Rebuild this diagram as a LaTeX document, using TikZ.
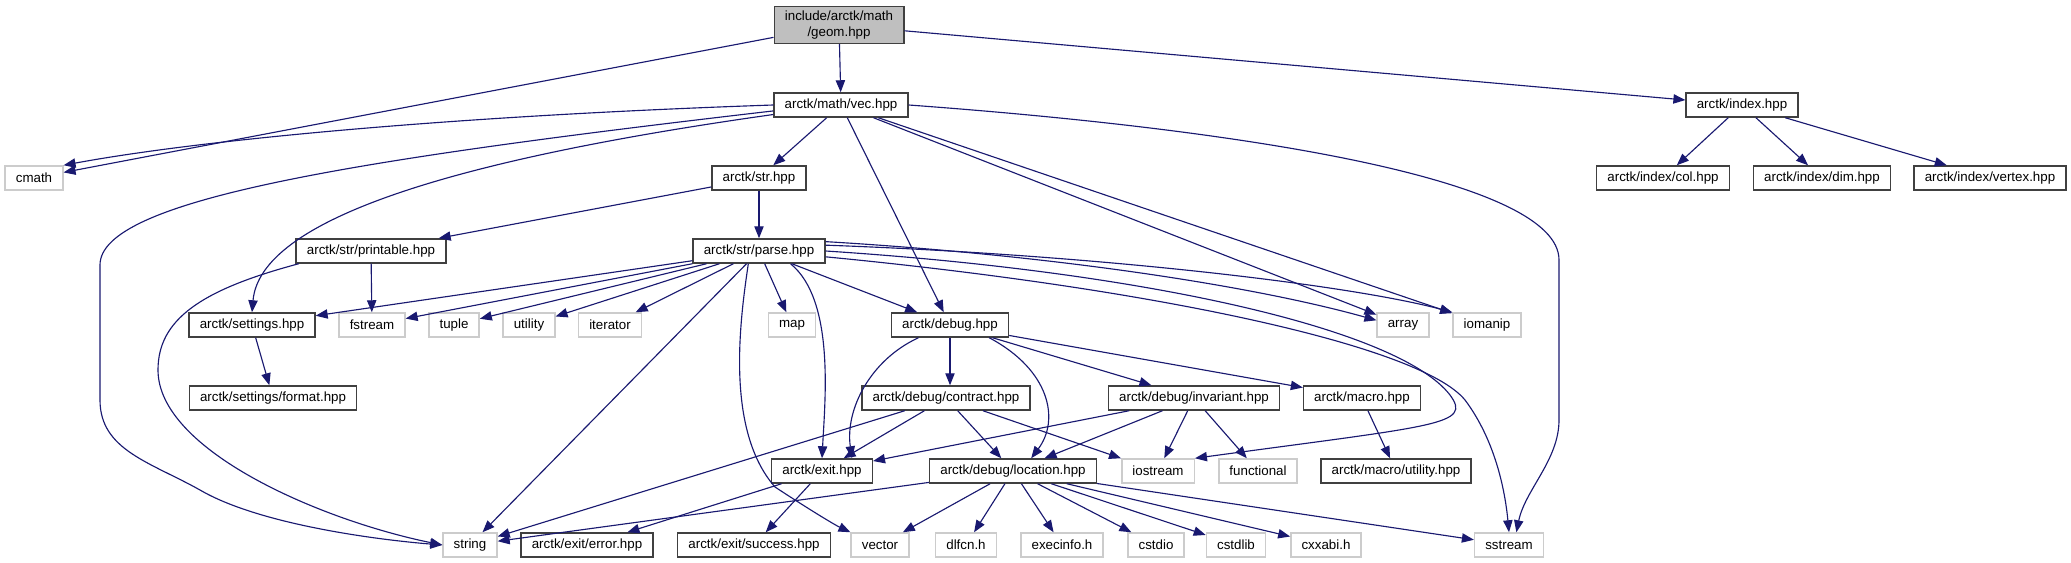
\documentclass[tikz,border=0pt]{standalone}
\usepackage{fontspec}
\setmainfont{Liberation Sans}
\definecolor{dxnavy}{HTML}{191970}
\definecolor{dxgrey}{HTML}{BFBFBF}
\definecolor{dxline}{HTML}{404040}
\usetikzlibrary{arrows.meta}

\begin{document}
\begin{tikzpicture}[x=0.75pt,y=-0.75pt,
  hdr/.style={draw=dxline,fill=white,line width=1.1pt,font=\fontsize{10}{12}\selectfont,inner xsep=8pt,inner ysep=0pt,minimum height=18pt},
  sys/.style={hdr,draw=black!20},
  dep/.style={-{Triangle[length=9pt,width=7pt]},dxnavy,line width=0.85pt}]
  \useasboundingbox (0,0) rectangle (2071,563);
  % Top file
  \node[hdr,fill=dxgrey,align=center,minimum height=27.5pt] (geom) at (839,25) {include/arctk/math\\/geom.hpp};
  \node[hdr] (vec) at (841,105) {arctk/math/vec.hpp};
  \node[hdr] (index) at (1742,105) {arctk/index.hpp};
  % Rank 2
  \node[sys] (cmath) at (34,178) {cmath};
  \node[hdr] (str) at (759,178) {arctk/str.hpp};
  \node[hdr] (icol) at (1663,178) {arctk/index/col.hpp};
  \node[hdr] (idim) at (1822,178) {arctk/index/dim.hpp};
  \node[hdr] (ivertex) at (1990,178) {arctk/index/vertex.hpp};
  % Rank 3
  \node[hdr] (printable) at (371,251) {arctk/str/printable.hpp};
  \node[hdr] (parse) at (759,251) {arctk/str/parse.hpp};
  % Rank 4
  \node[hdr] (settings) at (252,325) {arctk/settings.hpp};
  \node[sys] (fstream) at (372,325) {fstream};
  \node[sys] (tuple) at (454,325) {tuple};
  \node[sys] (utility) at (529,325) {utility};
  \node[sys] (iterator) at (610,325) {iterator};
  \node[sys] (map) at (792,325) {map};
  \node[hdr] (debug) at (950,325) {arctk/debug.hpp};
  \node[sys] (array) at (1403,325) {array};
  \node[sys] (iomanip) at (1487,325) {iomanip};
  % Rank 5
  \node[hdr] (format) at (273,398) {arctk/settings/format.hpp};
  \node[hdr] (contract) at (946,398) {arctk/debug/contract.hpp};
  \node[hdr] (invariant) at (1194,398) {arctk/debug/invariant.hpp};
  \node[hdr] (macro) at (1362,398) {arctk/macro.hpp};
  % Rank 6
  \node[hdr] (exit) at (822,471) {arctk/exit.hpp};
  \node[hdr] (location) at (1013,471) {arctk/debug/location.hpp};
  \node[sys] (iostream) at (1158,471) {iostream};
  \node[sys] (functional) at (1258,471) {functional};
  \node[hdr] (mutility) at (1396,471) {arctk/macro/utility.hpp};
  % Bottom rank
  \node[sys] (string) at (470,545) {string};
  \node[hdr] (error) at (587,545) {arctk/exit/error.hpp};
  \node[hdr] (success) at (754,545) {arctk/exit/success.hpp};
  \node[sys] (vector) at (880,545) {vector};
  \node[sys] (dlfcn) at (966,545) {dlfcn.h};
  \node[sys] (execinfo) at (1062,545) {execinfo.h};
  \node[sys] (cstdio) at (1156,545) {cstdio};
  \node[sys] (cstdlib) at (1236,545) {cstdlib};
  \node[sys] (cxxabi) at (1326,545) {cxxabi.h};
  \node[sys] (sstream) at (1509,545) {sstream};
  % geom.hpp
  \draw[dep] (geom) -- (cmath);
  \draw[dep] (geom) -- (vec);
  \draw[dep] (geom) -- (index);
  % vec.hpp
  \draw[dep] (vec.west) .. controls (450,116) and (200,140) .. (cmath.north east);
  \draw[dep] (vec.185) .. controls (350,160) and (100,200) .. (100,265) -- (100,400) .. controls (100,450) and (150,462) .. (200,490) .. controls (260,525) and (380,540) .. (string.west);
  \draw[dep] (vec.188) .. controls (450,160) and (260,220) .. (settings.north);
  \draw[dep] (vec) -- (str);
  \draw[dep] (vec) -- (debug);
  \draw[dep] (vec) -- (array);
  \draw[dep] (vec) -- (iomanip);
  \draw[dep] (vec.east) .. controls (1250,130) and (1559,180) .. (1559,260) -- (1559,420) .. controls (1559,460) and (1525,490) .. (sstream.60);
  % str.hpp and printable.hpp
  \draw[dep] (str) -- (printable);
  \draw[dep] (str) -- (parse);
  \draw[dep] (printable) -- (fstream);
  \draw[dep] (printable.190) .. controls (200,290) and (158,320) .. (158,370) .. controls (158,450) and (320,520) .. (string.west);
  % parse.hpp
  \draw[dep] (parse) -- (settings);
  \draw[dep] (parse) -- (fstream);
  \draw[dep] (parse) -- (tuple);
  \draw[dep] (parse) -- (utility);
  \draw[dep] (parse) -- (iterator);
  \draw[dep] (parse) -- (map);
  \draw[dep] (parse) -- (string);
  \draw[dep] (parse.230) .. controls (740,320) and (725,430) .. (775,487) .. controls (810,510) and (835,525) .. (vector.north west);
  \draw[dep] (parse.338) .. controls (835,300) and (825,400) .. (exit.north);
  \draw[dep] (parse) -- (debug);
  \draw[dep] (parse.8) .. controls (1050,255) and (1250,285) .. (array.170);
  \draw[dep] (parse.5) .. controls (1100,255) and (1350,285) .. (iomanip.north west);
  \draw[dep] (parse.0) .. controls (1150,272) and (1400,330) .. (1450,395) .. controls (1472,425) and (1440,425) .. (iostream.north east);
  \draw[dep] (parse.355) .. controls (1150,288) and (1420,345) .. (1465,400) .. controls (1495,440) and (1505,490) .. (sstream.north);
  % settings.hpp
  \draw[dep] (settings) -- (format);
  % debug.hpp
  \draw[dep] (debug.202) .. controls (870,360) and (845,410) .. (exit.23);
  \draw[dep] (debug.south) -- (debug.south |- contract.north);
  \draw[dep] (debug.342) .. controls (1050,370) and (1060,420) .. (location.35);
  \draw[dep] (debug) -- (invariant);
  \draw[dep] (debug) -- (macro);
  % contract.hpp and invariant.hpp
  \draw[dep] (contract) -- (string);
  \draw[dep] (contract) -- (exit);
  \draw[dep] (contract) -- (location);
  \draw[dep] (contract) -- (iostream);
  \draw[dep] (invariant) -- (exit);
  \draw[dep] (invariant) -- (location);
  \draw[dep] (invariant) -- (iostream);
  \draw[dep] (invariant) -- (functional);
  \draw[dep] (macro) -- (mutility);
  % exit.hpp
  \draw[dep] (exit) -- (error);
  \draw[dep] (exit) -- (success);
  % location.hpp
  \draw[dep] (location) -- (string);
  \draw[dep] (location) -- (vector);
  \draw[dep] (location) -- (dlfcn);
  \draw[dep] (location) -- (execinfo);
  \draw[dep] (location) -- (cstdio);
  \draw[dep] (location) -- (cstdlib);
  \draw[dep] (location) -- (cxxabi);
  \draw[dep] (location) -- (sstream);
  % index.hpp
  \draw[dep] (index) -- (icol);
  \draw[dep] (index) -- (idim);
  \draw[dep] (index) -- (ivertex);
\end{tikzpicture}
\end{document}
